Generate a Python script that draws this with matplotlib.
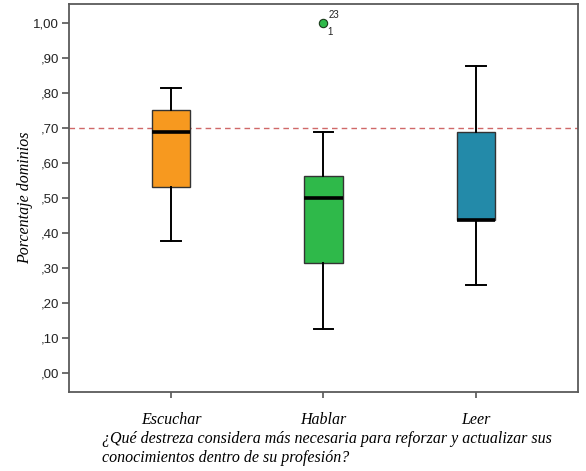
import matplotlib.pyplot as plt

# values
categories = ["Escuchar", "Hablar", "Leer"]
whis_lo = [0.375, 0.125, 0.25]
q1 = [0.53125, 0.3125, 0.4375]
medians = [0.6875, 0.50, 0.4375]
q3 = [0.75, 0.5625, 0.6875]
whis_hi = [0.8125, 0.6875, 0.875]
fliers = [[], [1.0], []]
flier_ids = [[], ["23", "1"], []]
reference = 0.70
yticks = [0.0, 0.1, 0.2, 0.3, 0.4, 0.5, 0.6, 0.7, 0.8, 0.9, 1.0]
ytick_labels = [",00", ",10", ",20", ",30", ",40", ",50", ",60", ",70", ",80", ",90", "1,00"]
colors = ["#f7991f", "#2fb94a", "#238aa9"]

fig = plt.figure(figsize=(5.86, 4.71), dpi=100)
ax = fig.add_axes([0.1177, 0.1677, 0.8686, 0.8238])

stats = []
for i in range(len(categories)):
    stats.append(dict(label=categories[i], whislo=whis_lo[i], q1=q1[i], med=medians[i],
                      q3=q3[i], whishi=whis_hi[i], fliers=fliers[i]))

positions = [1, 2, 3]
bp = ax.bxp(stats, positions=positions, widths=0.25, patch_artist=True, showfliers=True,
            boxprops=dict(edgecolor="#333333", linewidth=1.0),
            medianprops=dict(color="black", linewidth=2.6, solid_capstyle="butt"),
            whiskerprops=dict(color="black", linewidth=1.4),
            capprops=dict(color="black", linewidth=1.4),
            capwidths=0.13,
            flierprops=dict(marker="o", markersize=6, markerfacecolor=colors[1],
                            markeredgecolor="#1a3a1a", markeredgewidth=0.8))
for patch, c in zip(bp["boxes"], colors):
    patch.set_facecolor(c)

# outlier case labels
for i, ids in enumerate(flier_ids):
    for j, v in enumerate(fliers[i]):
        ax.annotate(ids[0], (positions[i], v), xytext=(4, 3), textcoords="offset points",
                    fontsize=7, family="Liberation Sans", color="#222222")
        ax.annotate(ids[1], (positions[i], v), xytext=(3, -9), textcoords="offset points",
                    fontsize=7, family="Liberation Sans", color="#222222")

ax.axhline(reference, color="#d06868", linewidth=1.0, linestyle=(0, (4, 3)), zorder=0.5)

ax.set_xlim(0.33, 3.67)
ax.set_ylim(-0.055, 1.053)
ax.set_yticks(yticks)
ax.set_yticklabels(ytick_labels, family="Liberation Sans", fontsize=9.5, color="#222222")
ax.set_xticks(positions)
ax.set_xticklabels(categories, family="Liberation Serif", style="italic", fontsize=11.5)
ax.tick_params(axis="x", length=4.5, width=1.2, color="#555555", pad=10)
ax.tick_params(axis="y", length=5, width=1.2, color="#555555", pad=2)
for s in ax.spines.values():
    s.set_color("#5a5a5a")
    s.set_linewidth(1.3)

ax.set_ylabel("Porcentaje dominios", family="Liberation Serif", style="italic", fontsize=11.5, labelpad=0.5)

fig.text(102 / 586, 1 - 448.5 / 471,
         "¿Qué destreza considera más necesaria para reforzar y actualizar sus\nconocimientos dentro de su profesión?",
         family="Liberation Serif", style="italic", fontsize=11.5, ha="left", va="center",
         linespacing=1.2)

fig.savefig("out.png", dpi=100)
